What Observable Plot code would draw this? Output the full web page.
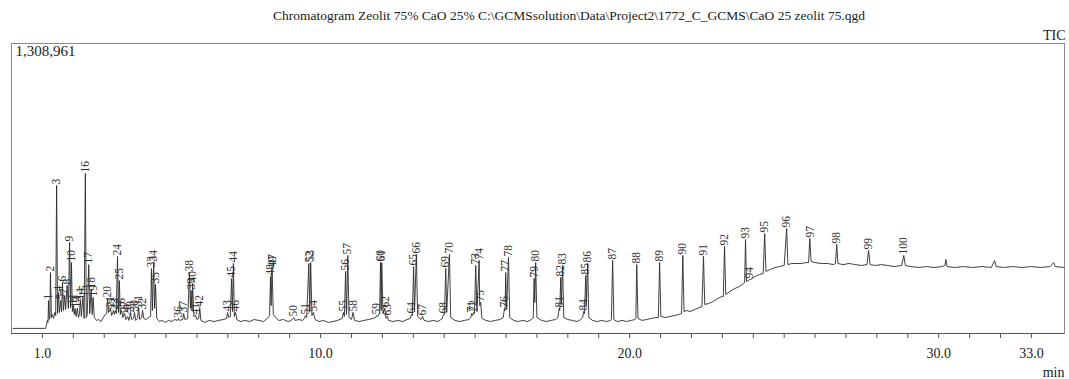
<!DOCTYPE html>
<html>
<head>
<meta charset="utf-8">
<script src="https://cdn.jsdelivr.net/npm/d3@7"></script>
<script src="https://cdn.jsdelivr.net/npm/@observablehq/plot@0.6"></script>
<style>
  html, body { margin: 0; padding: 0; background: #fff; }
  #chart svg { display: block; }
</style>
</head>
<body>
<div id="chart"></div>
<script>
// ---- Data ----
const titleText = "Chromatogram Zeolit 75% CaO 25% C:\\GCMSsolution\\Data\\Project2\\1772_C_GCMS\\CaO 25 zeolit 75.qgd";
const maxIntensityLabel = "1,308,961";
const maxIntensityK = 1308.961;          // thousands of counts
const timeRange = [0, 34.07];            // minutes
const minorTicks = [1,2,3,4,5,6,7,8,9,10,11,12,13,14,15,16,17,18,19,20,21,22,23,24,25,26,27,28,29,30,31,32,33];
const labeledTicks = [1, 10, 20, 30, 33];

// TIC trace: [retention time (min), intensity (thousands of counts)]
const trace = [
  [0.05,23],[1.10,23],[1.13,36],[1.16,59],[1.18,50],[1.20,149],[1.22,63],[1.24,68],[1.26,275],[1.29,72],
  [1.32,86],[1.36,68],[1.40,95],[1.43,81],[1.46,668],[1.49,90],[1.52,185],[1.55,95],[1.59,149],[1.62,99],
  [1.65,230],[1.68,104],[1.72,172],[1.75,108],[1.80,217],[1.84,113],[1.88,411],[1.91,117],[1.94,320],[1.97,99],
  [2.00,126],[2.03,86],[2.06,113],[2.09,77],[2.13,113],[2.17,72],[2.20,90],[2.23,149],[2.26,77],[2.31,163],
  [2.35,68],[2.39,722],[2.42,72],[2.45,86],[2.50,311],[2.53,90],[2.58,199],[2.61,86],[2.64,163],[2.68,72],
  [2.75,59],[2.82,63],[2.90,54],[2.97,72],[3.03,86],[3.08,90],[3.11,158],[3.14,95],[3.20,113],[3.24,81],
  [3.30,104],[3.33,86],[3.36,104],[3.39,90],[3.43,348],[3.46,95],[3.49,239],[3.52,86],[3.56,104],[3.60,72],
  [3.66,90],[3.70,63],[3.76,77],[3.80,59],[3.85,90],[3.89,63],[3.95,68],[3.98,95],[4.02,59],[4.08,68],
  [4.11,117],[4.15,63],[4.21,72],[4.24,104],[4.28,68],[4.35,63],[4.43,72],[4.50,77],[4.53,293],[4.56,104],
  [4.60,320],[4.63,113],[4.66,221],[4.70,68],[4.78,54],[4.88,59],[4.98,50],[5.08,59],[5.18,54],[5.28,63],
  [5.37,59],[5.40,68],[5.44,59],[5.54,63],[5.57,90],[5.61,63],[5.70,68],[5.76,275],[5.79,113],[5.81,194],
  [5.84,104],[5.86,226],[5.90,77],[5.96,81],[6.00,63],[6.06,68],[6.09,117],[6.13,59],[6.25,50],[6.40,59],
  [6.55,54],[6.70,59],[6.85,63],[6.96,68],[6.99,95],[7.03,72],[7.08,77],[7.12,248],[7.15,99],[7.18,316],
  [7.21,77],[7.25,95],[7.29,63],[7.40,54],[7.55,59],[7.70,54],[7.85,63],[8.00,59],[8.15,54],[8.28,68],
  [8.35,81],[8.38,257],[8.40,126],[8.43,302],[8.47,86],[8.55,72],[8.65,59],[8.80,63],[8.95,54],[9.05,59],
  [9.13,72],[9.18,59],[9.30,63],[9.42,59],[9.48,68],[9.51,81],[9.55,72],[9.62,316],[9.65,99],[9.68,320],
  [9.72,81],[9.77,95],[9.82,63],[9.95,54],[10.10,59],[10.25,50],[10.40,54],[10.55,59],[10.70,68],[10.74,95],
  [10.77,77],[10.81,280],[10.84,86],[10.88,352],[10.92,72],[11.00,63],[11.05,95],[11.10,59],[11.25,54],[11.40,59],
  [11.55,63],[11.70,68],[11.78,72],[11.81,81],[11.85,77],[11.91,90],[11.94,320],[11.96,104],[11.98,320],[12.02,90],
  [12.08,113],[12.12,68],[12.16,77],[12.20,59],[12.35,54],[12.50,59],[12.65,54],[12.80,63],[12.90,68],[12.94,86],
  [12.97,81],[13.01,302],[13.04,99],[13.10,357],[13.14,77],[13.25,63],[13.30,77],[13.35,59],[13.50,54],[13.65,59],
  [13.80,54],[13.94,68],[13.98,86],[14.01,86],[14.05,293],[14.08,95],[14.17,357],[14.21,72],[14.35,59],[14.50,54],
  [14.65,59],[14.80,63],[14.86,72],[14.89,90],[14.92,81],[14.95,95],[14.98,90],[15.02,307],[15.06,99],[15.13,330],
  [15.15,126],[15.18,140],[15.22,68],[15.35,59],[15.50,54],[15.65,59],[15.80,63],[15.91,72],[15.95,113],[15.97,104],
  [15.99,275],[16.02,108],[16.08,343],[16.12,72],[16.25,59],[16.40,54],[16.55,59],[16.70,54],[16.82,63],[16.88,72],
  [16.91,248],[16.93,140],[16.96,320],[17.00,72],[17.15,59],[17.30,54],[17.45,59],[17.60,63],[17.68,72],[17.72,113],
  [17.74,104],[17.77,253],[17.79,131],[17.83,307],[17.87,72],[18.00,63],[18.15,59],[18.30,54],[18.42,63],[18.48,72],
  [18.51,99],[18.54,90],[18.58,262],[18.60,126],[18.64,316],[18.68,72],[18.80,59],[18.95,54],[19.10,59],[19.25,54],
  [19.38,59],[19.41,63],[19.45,330],[19.49,63],[19.60,54],[19.75,59],[19.90,54],[20.05,59],[20.17,63],[20.20,68],
  [20.23,311],[20.27,68],[20.40,59],[20.55,63],[20.70,68],[20.85,72],[20.93,72],[20.97,320],[21.01,77],[21.15,72],
  [21.30,77],[21.45,81],[21.60,86],[21.68,90],[21.72,352],[21.76,99],[21.85,104],[21.95,99],[22.10,108],[22.25,117],
  [22.34,122],[22.39,348],[22.43,131],[22.55,135],[22.70,144],[22.85,158],[22.98,167],[23.03,167],[23.07,393],[23.11,176],
  [23.25,190],[23.40,203],[23.55,212],[23.68,226],[23.72,230],[23.75,424],[23.78,235],[23.85,239],[23.88,244],[23.92,244],
  [24.05,257],[24.20,266],[24.32,271],[24.37,451],[24.41,280],[24.55,289],[24.70,298],[24.85,302],[25.00,307],[25.08,474],
  [25.12,311],[25.25,316],[25.40,316],[25.55,316],[25.70,320],[25.79,320],[25.83,429],[25.87,325],[26.00,320],[26.20,316],
  [26.40,316],[26.60,311],[26.66,316],[26.70,402],[26.74,316],[26.90,311],[27.10,316],[27.30,311],[27.50,307],[27.68,311],
  [27.73,375],[27.78,311],[27.95,307],[28.15,311],[28.35,307],[28.55,302],[28.80,307],[28.87,352],[28.92,307],[29.10,302],
  [29.35,298],[29.60,302],[29.85,298],[30.10,302],[30.20,307],[30.23,334],[30.27,302],[30.50,298],[30.80,302],[31.10,298],
  [31.40,302],[31.70,298],[31.81,329],[31.86,302],[32.10,298],[32.40,302],[32.70,298],[33.00,302],[33.30,298],[33.60,302],
  [33.72,320],[33.77,302],[34.06,298]
];

// Peak labels: [peak number, retention time (min), apex intensity (thousands)]
const peaks = [
  [1,1.20,149],[2,1.26,275],[3,1.46,668],[4,1.52,185],[5,1.59,149],[6,1.65,230],[7,1.72,172],[8,1.80,217],
  [9,1.88,411],[10,1.94,320],[11,2.00,126],[12,2.06,113],[13,2.13,113],[14,2.23,149],[15,2.31,163],[16,2.39,722],
  [17,2.50,311],[18,2.58,199],[19,2.64,163],[20,3.11,158],[21,3.20,113],[22,3.30,104],[23,3.36,104],[24,3.43,348],
  [25,3.49,239],[26,3.56,104],[27,3.66,90],[28,3.76,77],[29,3.85,90],[30,3.98,95],[31,4.11,117],[32,4.24,104],
  [33,4.53,293],[34,4.60,320],[35,4.66,221],[36,5.40,68],[37,5.57,90],[38,5.76,275],[39,5.81,194],[40,5.86,226],
  [41,5.96,81],[42,6.09,117],[43,6.99,95],[44,7.18,316],[45,7.12,248],[46,7.25,95],[47,8.43,302],[48,8.38,257],
  [49,8.45,293],[50,9.13,72],[51,9.51,81],[52,9.62,316],[53,9.68,320],[54,9.77,95],[55,10.74,95],[56,10.81,280],
  [57,10.88,352],[58,11.05,95],[59,11.81,81],[60,11.94,320],[61,11.98,320],[62,12.08,113],[63,12.16,77],[64,12.94,86],
  [65,13.01,302],[66,13.10,357],[67,13.30,77],[68,13.98,86],[69,14.05,293],[70,14.17,357],[71,14.89,90],[72,14.95,95],
  [73,15.02,307],[74,15.13,330],[75,15.18,140],[76,15.95,113],[77,15.99,275],[78,16.08,343],[79,16.91,248],[80,16.96,320],
  [81,17.72,113],[82,17.77,253],[83,17.83,307],[84,18.51,99],[85,18.58,262],[86,18.64,316],[87,19.45,330],[88,20.23,311],
  [89,20.97,320],[90,21.72,352],[91,22.39,348],[92,23.07,393],[93,23.75,424],[94,23.88,244],[95,24.37,451],[96,25.08,474],
  [97,25.83,429],[98,26.70,402],[99,27.73,375],[100,28.87,352]
];

// ---- Chart ----
const serif = "'Liberation Serif', 'Times New Roman', serif";
const chart = Plot.plot({
  width: 1069,
  height: 379,
  marginLeft: 11,
  marginRight: 5,
  marginTop: 43,
  marginBottom: 46,
  style: {fontFamily: serif, fontSize: "14px", color: "#222", background: "#fff"},
  x: {domain: timeRange},
  y: {domain: [0, maxIntensityK], axis: null},
  marks: [
    Plot.frame({stroke: "#8a8a8a", strokeWidth: 1}),
    Plot.ruleY([0], {stroke: "#555", strokeWidth: 1.2}),
    Plot.axisX({ticks: minorTicks, tickSize: 5, tickFormat: () => "", stroke: "#555"}),
    Plot.axisX({ticks: labeledTicks, tickSize: 0, tickPadding: 15, tickFormat: d => d.toFixed(1), fill: "#222", fontSize: 14}),
    Plot.line(trace, {x: d => d[0], y: d => d[1], stroke: "#2a2a2a", strokeWidth: 0.9}),
    Plot.text(peaks, {x: d => d[1], y: d => d[2], text: d => String(d[0]), rotate: -90,
      textAnchor: "start", lineAnchor: "middle", dy: -1, fontSize: 11.5, fill: "#333"}),
    Plot.text([titleText], {frameAnchor: "top", textAnchor: "middle", lineAnchor: "bottom", dx: 31, dy: -24, fontSize: 13.5, fill: "#222"}),
    Plot.text(["TIC"], {frameAnchor: "top-right", textAnchor: "end", lineAnchor: "bottom", dx: 1, dy: -4, fontSize: 14, fill: "#222"}),
    Plot.text([maxIntensityLabel], {frameAnchor: "top-left", textAnchor: "start", lineAnchor: "top", dx: 4, dy: 2, fontSize: 15, fill: "#222"}),
    Plot.text(["min"], {frameAnchor: "bottom-right", textAnchor: "end", lineAnchor: "bottom", dx: 0, dy: 43, fontSize: 14, fill: "#222"})
  ]
});
document.getElementById("chart").appendChild(chart);
</script>
</body>
</html>
